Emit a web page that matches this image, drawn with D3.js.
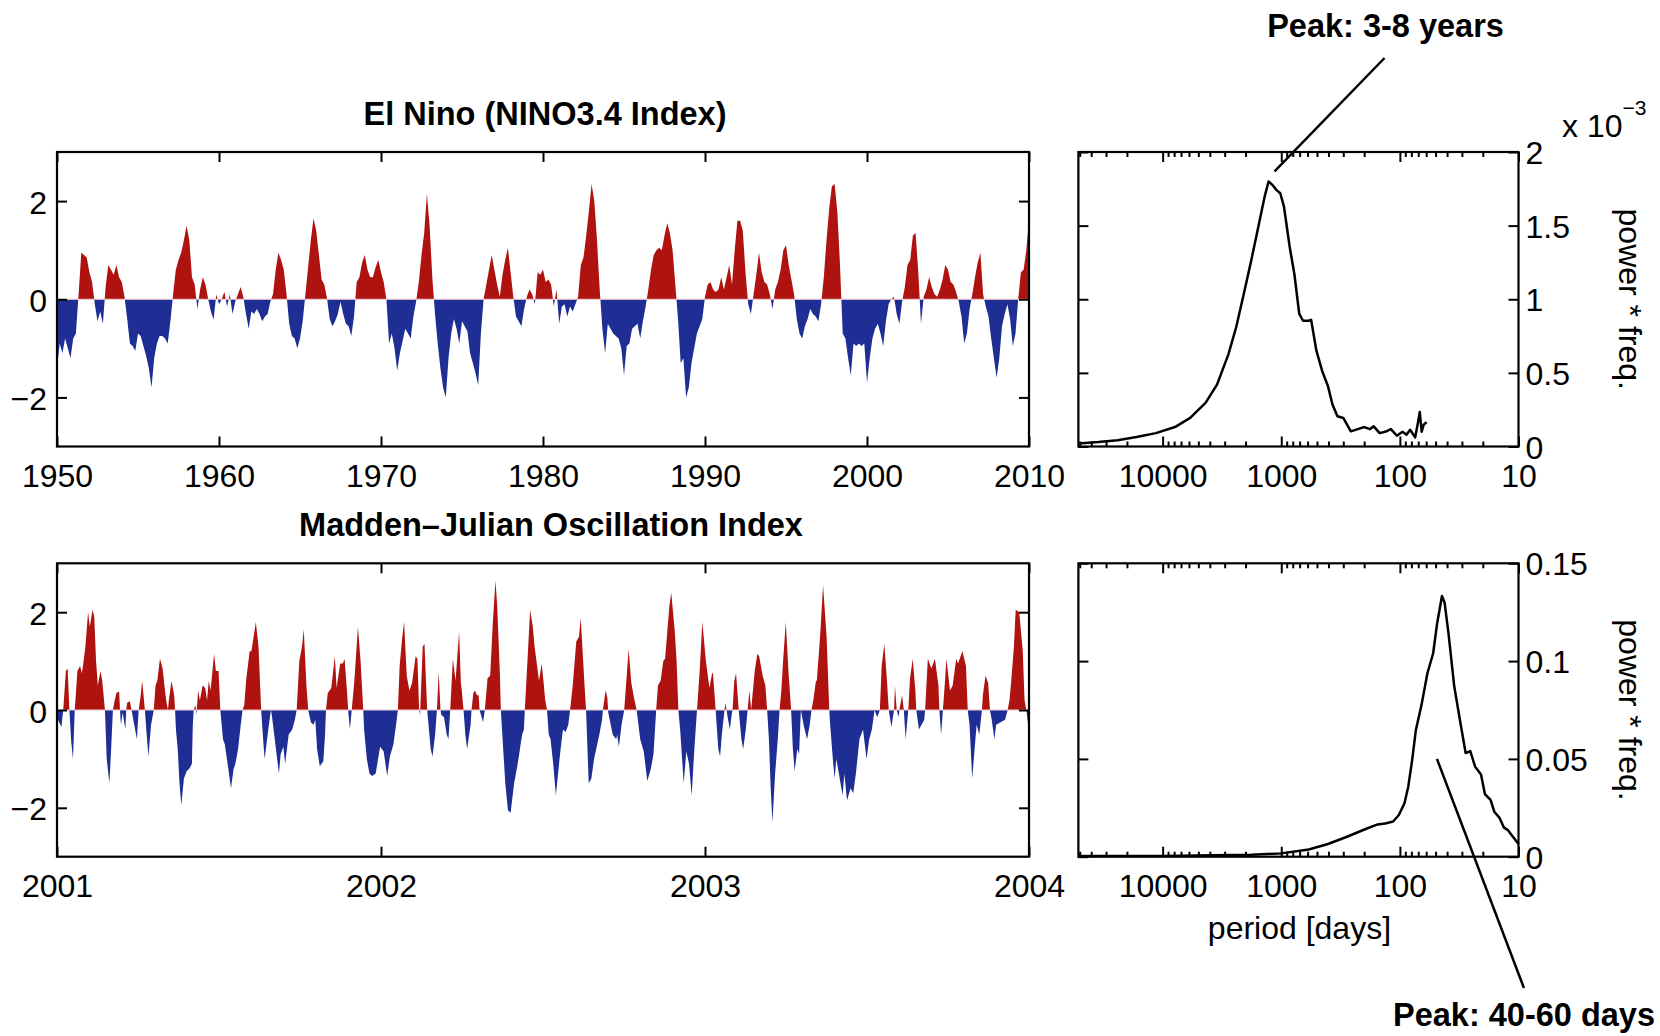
<!DOCTYPE html>
<html>
<head>
<meta charset="utf-8">
<script src="https://cdnjs.cloudflare.com/ajax/libs/d3/7.8.5/d3.min.js"></script>
<style>
    body { margin: 0; background: #fff; }
    svg { display: block; font-family: "Liberation Sans", Arial, Helvetica, sans-serif; }
    .frame { fill: none; stroke: #000; stroke-width: 2.2; }
    .title { font-size: 32.5px; font-weight: bold; text-anchor: middle; }
    .label { font-size: 32px; }
    .spec { fill: none; stroke: #000; stroke-width: 2.5; stroke-linejoin: round; }
    .pointer { stroke: #000; stroke-width: 2.5; }
</style>
</head>
<body>
<svg id="chart"></svg>

<script>

    // NINO3.4 index, every two months from Jan 1950 to Jan 2010
    var ensoStart = 1950,
        ensoEnd = 2010,
        ensoPerYear = 6;
    var ensoIndex = [
        -1.4, -0.9, -1.1, -0.8, -1.0, -1.2,
        -0.8, -0.7, 0.1, 0.95, 0.9, 0.85,
        0.55, 0.35, -0.1, -0.45, -0.25, -0.5,
        0.25, 0.7, 0.6, 0.5, 0.7, 0.45,
        0.35, 0.05, -0.4, -0.9, -0.95, -1.05,
        -0.7, -0.75, -0.95, -1.15, -1.4, -1.8,
        -1.2, -0.9, -0.75, -0.75, -0.8, -0.9,
        -0.45, 0.1, 0.6, 0.8, 0.95, 1.2,
        1.5, 1.2, 0.45, 0.3, -0.2, 0.2,
        0.45, 0.3, 0.0, -0.25, -0.42, 0.1,
        -0.1, 0.0, 0.15, -0.15, 0.1, -0.3,
        -0.05, 0.1, 0.25, 0.05, -0.3, -0.6,
        -0.25, -0.3, -0.2, -0.3, -0.45, -0.35,
        -0.3, -0.05, 0.1, 0.6, 0.95, 0.8,
        0.6, 0.1, -0.5, -0.75, -0.8, -1.0,
        -0.8, -0.45, 0.1, 0.65, 1.2, 1.65,
        1.4, 0.9, 0.4, 0.3, 0.02, -0.4,
        -0.55, -0.45, -0.3, -0.05, -0.3, -0.5,
        -0.55, -0.75, -0.35, 0.35, 0.45, 0.75,
        0.9, 0.6, 0.45, 0.45, 0.65, 0.8,
        0.55, 0.35, 0.0, -0.9, -0.7, -1.0,
        -1.45, -1.1, -0.85, -0.6, -0.7, -0.8,
        -0.35, -0.05, 0.35, 0.9, 1.35, 2.15,
        1.5, 0.45, -0.3, -0.9, -1.4, -1.8,
        -2.0, -1.2, -0.7, -0.4, -0.6, -0.9,
        -0.45, -0.55, -0.65, -1.1, -1.3, -1.5,
        -1.75, -0.7, 0.0, 0.3, 0.6, 0.9,
        0.6, 0.3, 0.05, 0.5, 0.8, 1.05,
        0.55, 0.05, -0.35, -0.45, -0.55, -0.2,
        0.05, 0.2, 0.1, -0.1, 0.55, 0.5,
        0.6, 0.35, 0.4, 0.3, -0.15, 0.2,
        -0.5, -0.15, -0.1, -0.35, -0.15, -0.25,
        -0.1, 0.05, 0.7, 0.85, 1.3, 1.8,
        2.35, 2.0, 1.2, 0.2, -0.6, -1.1,
        -0.5, -0.6, -0.7, -0.75, -0.8, -1.0,
        -1.55, -0.95, -0.9, -0.6, -0.55, -0.5,
        -0.8, -0.45, -0.15, 0.2, 0.6, 0.9,
        1.0, 1.05, 1.0, 1.3, 1.55, 1.35,
        1.0, 0.3, -0.4, -1.3, -1.2, -2.0,
        -1.8, -1.3, -1.0, -0.7, -0.55, -0.4,
        0.05, 0.3, 0.35, 0.2, 0.15, 0.2,
        0.45, 0.2, 0.45, 0.7, 0.3, 1.0,
        1.6, 1.6, 1.4, 0.55, -0.1, -0.3,
        0.1, 0.5, 0.95, 0.55, 0.35, 0.3,
        0.1, -0.2, 0.2, 0.35, 0.6, 1.0,
        1.1, 0.7, 0.4, 0.1, -0.4, -0.7,
        -0.8, -0.55, -0.4, -0.2, -0.3, -0.35,
        -0.45, -0.1, 0.45, 1.2, 1.85, 2.3,
        2.35, 1.8, 0.7, -0.7, -0.8, -1.2,
        -1.55, -0.9, -0.95, -0.9, -0.95, -0.9,
        -1.7, -1.2, -0.8, -0.6, -0.5, -0.7,
        -0.95, -0.45, -0.1, 0.0, 0.05, -0.3,
        -0.5, -0.05, 0.25, 0.7, 0.8, 1.3,
        1.35, 0.55, -0.5, 0.05, 0.2, 0.45,
        0.25, 0.1, 0.05, 0.2, 0.4, 0.7,
        0.6, 0.35, 0.3, 0.15, -0.05, -0.35,
        -0.9, -0.7, -0.2, 0.1, 0.45, 0.75,
        0.95, 0.1, -0.15, -0.35, -0.8, -1.2,
        -1.6, -1.2, -0.55, -0.3, -0.1, -0.4,
        -0.95, -0.7, 0.0, 0.55, 0.6, 1.0,
        1.65
    ];
    var ensoTicks = [1950, 1960, 1970, 1980, 1990, 2000, 2010];

    // MJO index: [day since 1 Jan 2001, value]
    var mjoPoints = [
        [0,-0.15],[1,-0.2],[5,-0.35],[7,0],[10,0.8],[12,0.85],[14,0],[16,-0.65],[18,-1.0],[20,0],
        [23,0.8],[26,0.9],[28,0.75],[30,1.0],[32,1.3],[35,2.0],[37,1.7],[40,2.05],[42,1.9],[44,1.0],
        [46,0.5],[49,0.8],[51,0.6],[53,0.2],[54,0],[56,-1.0],[59,-1.5],[61,-0.8],[63,0],[65,0.2],
        [67,0.35],[70,0.38],[71,0],[72,-0.3],[74,-0.05],[77,-0.4],[78,0],[79,0.15],[82,0.18],[84,0],
        [86,-0.2],[90,-0.6],[92,0],[94,0.25],[96,0.6],[99,0],[101,-0.5],[103,-0.95],[106,-0.3],[109,0],
        [111,0.5],[113,0.6],[116,1.05],[119,0.85],[121,0.5],[123,0.2],[125,0],[126,0.2],[129,0.6],[132,0.3],
        [133,0],[134,-0.4],[136,-0.8],[138,-1.5],[140,-1.95],[143,-1.4],[146,-1.25],[149,-1.2],[152,-1.1],[153,-0.3],
        [154,0],[156,0.1],[157,-0.1],[159,0.4],[161,0.2],[164,0.5],[167,0.45],[169,0.2],[171,0.6],[173,0.4],
        [177,1.15],[179,0.8],[182,0.8],[184,0],[187,-0.6],[189,-0.7],[193,-1.2],[196,-1.6],[199,-1.2],[201,-1.1],
        [204,-0.8],[207,-0.3],[209,0],[211,0.1],[213,0.6],[217,1.2],[219,1.2],[224,1.8],[227,1.3],[230,0],
        [233,-0.8],[234,-1.0],[238,-0.4],[241,0],[242,-0.1],[246,-0.7],[250,-1.3],[252,-0.9],[255,-0.75],[257,-1.1],
        [261,-0.5],[265,-0.4],[268,-0.2],[270,0],[273,1.0],[276,1.3],[278,1.65],[281,0.5],[283,0],[286,-0.25],
        [289,-0.3],[291,-0.2],[293,-0.8],[296,-1.15],[300,-1.05],[302,-0.5],[303,0],[305,0.35],[309,0.45],[313,1.1],
        [315,0.45],[319,0.95],[322,0.95],[324,1.05],[327,0.3],[328,0],[330,-0.4],[332,0],[335,0.6],[339,1.7],
        [342,1.0],[345,0],[346,-0.4],[349,-1.0],[352,-1.3],[355,-1.35],[359,-1.3],[364,-0.75],[368,-0.85],[372,-1.35],
        [375,-0.95],[379,-0.7],[382,-0.3],[384,0],[386,0.9],[389,1.5],[391,1.8],[394,0.7],[397,0.4],[400,0.55],
        [404,1.1],[406,1.05],[408,0],[409,-0.1],[412,1.3],[414,1.35],[417,0],[421,-0.8],[423,-0.95],[426,-0.5],
        [428,0],[430,0.78],[432,0],[433,-0.1],[436,-0.15],[439,-0.5],[441,-0.6],[443,0],[446,1.05],[449,0.6],
        [453,1.6],[455,0.55],[456,0.4],[458,0],[460,-0.5],[462,-0.8],[466,-0.3],[467,0],[469,0.35],[471,0.4],
        [473,0.3],[475,0.3],[476,0],[480,-0.25],[482,0],[485,0.65],[488,0.7],[491,1.8],[494,2.65],[496,2.1],
        [499,0.7],[500,0],[503,-0.9],[505,-1.5],[508,-2.05],[511,-2.1],[515,-1.5],[519,-1.1],[524,-0.5],[526,-0.4],
        [527,0],[530,1.0],[533,2.05],[536,1.7],[538,1.3],[543,0.6],[546,0.95],[548,0.6],[550,0.2],[552,0],
        [554,-0.5],[556,-0.6],[559,-1.1],[562,-1.75],[567,-0.85],[570,-0.4],[573,-0.45],[576,-0.3],[578,0],[581,0.5],
        [585,1.4],[588,1.5],[590,1.88],[594,0.6],[596,0],[599,-1.5],[602,-1.4],[605,-1.0],[611,-0.5],[614,-0.2],
        [615,0],[618,0.4],[620,0.25],[621,-0.05],[626,-0.5],[630,-0.6],[631,-0.5],[633,-0.75],[636,-0.3],[638,-0.1],
        [639,0],[641,0.5],[644,1.25],[647,0.55],[650,0.25],[653,0],[657,-0.6],[661,-0.85],[665,-1.45],[669,-1.2],
        [672,-0.9],[675,0],[677,0.5],[680,0.6],[683,1.0],[685,1.05],[690,2.15],[692,2.4],[696,1.6],[698,1.0],
        [700,0],[702,-0.4],[706,-1.5],[709,-0.85],[712,-1.1],[715,-1.75],[718,-0.8],[721,0],[724,0.8],[727,1.8],
        [731,1.0],[735,0.45],[738,0.75],[739,0.75],[742,0],[745,-0.8],[747,-0.95],[749,-0.5],[752,0],[753,0.15],
        [756,-0.2],[758,-0.4],[760,-0.1],[761,0],[763,0.6],[765,0.75],[768,0],[771,-0.6],[773,-0.8],[776,-0.4],
        [778,0],[780,0.4],[782,0],[786,0.8],[789,1.15],[791,1.1],[795,0.7],[798,0.5],[800,0],[802,-0.6],
        [804,-1.6],[806,-2.3],[809,-1.3],[812,-0.6],[814,0],[816,0.4],[818,1.0],[821,1.8],[824,0.8],[827,0],
        [829,-0.8],[831,-1.25],[834,-0.8],[836,-0.9],[838,0],[841,-0.3],[845,-0.6],[848,-0.3],[850,0],[852,0.2],
        [855,0.6],[856,0.6],[860,1.6],[863,2.55],[867,1.5],[870,0],[871,-0.3],[874,-1.0],[876,-1.4],[878,-1.0],
        [885,-1.75],[887,-1.3],[890,-1.85],[894,-1.6],[897,-1.7],[900,-1.3],[904,-0.6],[908,-0.4],[912,-1.0],[915,-0.6],
        [918,-0.4],[921,0],[924,-0.15],[927,0],[929,0.9],[932,1.35],[935,0.6],[937,0],[940,-0.35],[943,0],
        [944,0.5],[946,0],[948,-0.15],[949,0],[952,0.3],[954,0],[956,-0.6],[959,0],[961,0.65],[964,1.05],
        [967,0.4],[968,0],[971,-0.4],[974,-0.3],[977,-0.2],[978,0],[981,1.05],[985,0.85],[989,1.05],[993,0.5],
        [994,0],[996,-0.5],[998,0],[1000,0.5],[1002,1.05],[1006,0.4],[1009,0.5],[1013,1.05],[1015,0.95],[1020,1.2],
        [1024,0.9],[1026,0],[1028,-0.3],[1031,-1.4],[1036,-0.3],[1039,-0.5],[1042,0],[1043,0.3],[1046,0.7],[1049,0.55],
        [1051,0],[1053,-0.2],[1056,-0.6],[1058,-0.3],[1063,-0.25],[1068,-0.2],[1071,0],[1073,0.2],[1075,0.6],[1078,1.3],
        [1080,2.05],[1084,2.0],[1088,1.2],[1090,0.2],[1092,0],[1094,-0.3],[1095,-0.3]
    ];
    var mjoYears = [2001, 2002, 2003, 2004];
    var indexTicks = [-2, 0, 2];

    // power * frequency against period [days]
    var ensoSpectrum = [
        [51300,0.000020],[34800,0.000030],[24000,0.000043],[16600,0.000064],[11400,0.000091],
        [7880,0.000132],[5860,0.000194],[4350,0.000296],[3480,0.000420],[2790,0.000626],
        [2400,0.000810],[2070,0.001036],[1790,0.001264],[1540,0.001515],[1380,0.001697],
        [1280,0.001800],[1190,0.001777],[1100,0.001743],[1020,0.001720],[949,0.001630],
        [849,0.001355],[776,0.001173],[705,0.000900],[655,0.000854],[586,0.000854],
        [560,0.000860],[505,0.000649],[452,0.000513],[404,0.000410],[370,0.000285],
        [336,0.000205],[300,0.000194],[259,0.000103],[223,0.000120],[199,0.000132],
        [179,0.000118],[166,0.000137],[148,0.000091],[133,0.000100],[119,0.000118],
        [106,0.000073],[95,0.000100],[88,0.000080],[82,0.000114],[74.3,0.000062],
        [70.5,0.000160],[68,0.000235],[65.5,0.000100],[63,0.000148],[59.5,0.000166]
    ];
    var mjoSpectrum = [
        [51300,0.0003],[10000,0.0003],[3750,0.0007],[1790,0.0010],[1000,0.0017],
        [586,0.0037],[404,0.0065],[279,0.0102],[192,0.0143],[154,0.0165],
        [133,0.0170],[114,0.0180],[102,0.0213],[91.5,0.0273],[85,0.0358],
        [78.8,0.0494],[73.3,0.0648],[65.5,0.0780],[58.6,0.0938],[52.4,0.1040],
        [48.6,0.1190],[44.2,0.1333],[42,0.1300],[38.9,0.1140],[34.8,0.0870],
        [31.2,0.0700],[27.9,0.0530],[25.5,0.0540],[23.2,0.0460],[20.7,0.0420],
        [19.2,0.0320],[17.2,0.0290],[16.0,0.0230],[14.5,0.0200],[13.3,0.0150],
        [12.3,0.0136],[11.4,0.0110],[10,0.0065]
    ];
    var periodDomain = [51300, 10];
    var periodTicks = [10000, 1000, 100, 10];
    var ensoPowerTicks = [0, 0.0005, 0.001, 0.0015, 0.002];
    var mjoPowerTicks = [0, 0.05, 0.1, 0.15];

    var width = 1660,
        height = 1036;

    var red = "#af130f",
        blue = "#1f2e95";

    var left = {x0: 57, x1: 1029},
        right = {x0: 1078.4, x1: 1518.5},
        rowTop = {y0: 152, y1: 446.5},
        rowBottom = {y0: 563.3, y1: 856.7};

    var svg = d3.select("#chart")
        .attr("width", width)
        .attr("height", height);

    svg.append("rect")
        .attr("width", width)
        .attr("height", height)
        .attr("fill", "#fff");

    var defs = svg.append("defs");

    function styleAxis(g) {
        g.select(".domain").remove();
        g.selectAll("line").attr("stroke", "#000").attr("stroke-width", 2);
        g.selectAll("text")
            .attr("fill", "#000")
            .attr("font-size", 32)
            .attr("font-family", "Liberation Sans, Arial, Helvetica, sans-serif");
    }

    // filled index time series, red above zero and blue below
    function indexPanel(id, box, row, x, points, xTicks, xFormat, title, titleShift) {
        var y = d3.scaleLinear().domain([-3, 3]).range([row.y1, row.y0]);
        var zero = y(0);

        defs.append("clipPath").attr("id", id + "-up")
            .append("rect")
            .attr("x", box.x0).attr("y", row.y0)
            .attr("width", box.x1 - box.x0).attr("height", zero - row.y0);
        defs.append("clipPath").attr("id", id + "-down")
            .append("rect")
            .attr("x", box.x0).attr("y", zero)
            .attr("width", box.x1 - box.x0).attr("height", row.y1 - zero);

        var area = d3.area()
            .x(function(d) { return x(d[0]); })
            .y0(zero)
            .y1(function(d) { return y(d[1]); });

        var g = svg.append("g").attr("class", id);

        g.append("path")
            .datum(points)
            .attr("clip-path", "url(#" + id + "-up)")
            .attr("fill", red)
            .attr("d", area);

        g.append("path")
            .datum(points)
            .attr("clip-path", "url(#" + id + "-down)")
            .attr("fill", blue)
            .attr("d", area);

        g.append("line")
            .attr("x1", box.x0).attr("x2", box.x1)
            .attr("y1", zero).attr("y2", zero)
            .attr("stroke", "#eec7cb")
            .attr("stroke-width", 1.2);

        g.append("g")
            .attr("transform", "translate(0," + row.y1 + ")")
            .call(d3.axisBottom(x).tickValues(xTicks).tickFormat(xFormat).tickSize(-10).tickPadding(18))
            .call(styleAxis);
        g.append("g")
            .attr("transform", "translate(0," + row.y0 + ")")
            .call(d3.axisTop(x).tickValues(xTicks).tickFormat("").tickSize(-10))
            .call(styleAxis);
        g.append("g")
            .attr("transform", "translate(" + box.x0 + ",0)")
            .call(d3.axisLeft(y).tickValues(indexTicks).tickFormat(d3.format("d")).tickSize(-10).tickPadding(10))
            .call(styleAxis)
            .selectAll("text").attr("dy", "0.38em");
        g.append("g")
            .attr("transform", "translate(" + box.x1 + ",0)")
            .call(d3.axisRight(y).tickValues(indexTicks).tickFormat("").tickSize(-10))
            .call(styleAxis);

        g.append("rect")
            .attr("class", "frame")
            .attr("x", box.x0).attr("y", row.y0)
            .attr("width", box.x1 - box.x0).attr("height", row.y1 - row.y0);

        svg.append("text")
            .attr("class", "title")
            .attr("x", (box.x0 + box.x1) / 2 + titleShift)
            .attr("y", row.y0 - 27)
            .text(title);
    }

    // spectrum panel with log period axis
    function spectrumPanel(row, data, powerTicks, powerFormat) {
        var x = d3.scaleLog().domain(periodDomain).range([right.x0, right.x1]);
        var y = d3.scaleLinear().domain([0, powerTicks[powerTicks.length - 1]]).range([row.y1, row.y0]);

        var minor = [];
        for (var e = 1; e <= 4; e++) {
            for (var m = 2; m <= 9; m++) {
                var v = m * Math.pow(10, e);
                if (v <= periodDomain[0]) minor.push(v);
            }
        }

        var g = svg.append("g");

        g.append("path")
            .datum(data)
            .attr("class", "spec")
            .attr("d", d3.line()
                .x(function(d) { return x(d[0]); })
                .y(function(d) { return y(d[1]); }));

        g.append("g")
            .attr("transform", "translate(0," + row.y1 + ")")
            .call(d3.axisBottom(x).tickValues(periodTicks).tickFormat(d3.format("d")).tickSize(-10).tickPadding(18))
            .call(styleAxis);
        g.append("g")
            .attr("transform", "translate(0," + row.y1 + ")")
            .call(d3.axisBottom(x).tickValues(minor).tickFormat("").tickSize(-5))
            .call(styleAxis);
        g.append("g")
            .attr("transform", "translate(0," + row.y0 + ")")
            .call(d3.axisTop(x).tickValues(periodTicks).tickFormat("").tickSize(-10))
            .call(styleAxis);
        g.append("g")
            .attr("transform", "translate(0," + row.y0 + ")")
            .call(d3.axisTop(x).tickValues(minor).tickFormat("").tickSize(-5))
            .call(styleAxis);
        g.append("g")
            .attr("transform", "translate(" + right.x0 + ",0)")
            .call(d3.axisLeft(y).tickValues(powerTicks).tickFormat("").tickSize(-10))
            .call(styleAxis);
        g.append("g")
            .attr("transform", "translate(" + right.x1 + ",0)")
            .call(d3.axisRight(y).tickValues(powerTicks).tickFormat(powerFormat).tickSize(-10).tickPadding(7))
            .call(styleAxis)
            .selectAll("text").attr("dy", "0.36em");

        g.append("rect")
            .attr("class", "frame")
            .attr("x", right.x0).attr("y", row.y0)
            .attr("width", right.x1 - right.x0).attr("height", row.y1 - row.y0);

        svg.append("text")
            .attr("class", "label")
            .attr("transform", "translate(1619," + (row.y0 + row.y1) / 2 + ") rotate(90)")
            .attr("text-anchor", "middle")
            .text("power * freq.");

        var peak = d3.greatest(data, function(d) { return d[1]; });
        return {x: x(peak[0]), y: y(peak[1]), scaleY: y};
    }

    // El Nino
    var ensoX = d3.scaleLinear().domain([ensoStart, ensoEnd]).range([left.x0, left.x1]);
    var ensoPoints = ensoIndex.map(function(v, i) { return [ensoStart + i / ensoPerYear, v]; });
    indexPanel("enso", left, rowTop, ensoX, ensoPoints, ensoTicks, d3.format("d"), "El Nino (NINO3.4 Index)", 2);

    // Madden-Julian Oscillation
    var mjoStartDate = new Date(mjoYears[0], 0, 1);
    var mjoX = d3.scaleTime()
        .domain([mjoStartDate, new Date(mjoYears[mjoYears.length - 1], 0, 1)])
        .range([left.x0, left.x1]);
    var mjoDates = mjoPoints.map(function(d) { return [d3.timeDay.offset(mjoStartDate, d[0]), d[1]]; });
    var mjoTickDates = mjoYears.map(function(yr) { return new Date(yr, 0, 1); });
    indexPanel("mjo", left, rowBottom, mjoX, mjoDates, mjoTickDates, d3.timeFormat("%Y"), "Madden\u2013Julian Oscillation Index", 8);

    // spectra
    var topPeak = spectrumPanel(rowTop, ensoSpectrum, ensoPowerTicks, function(d) { return d3.format("")(+(d * 1000).toFixed(1)); });
    var bottomPeak = spectrumPanel(rowBottom, mjoSpectrum, mjoPowerTicks, function(d) { return d3.format("")(d); });

    var exponent = svg.append("text")
        .attr("class", "label")
        .attr("x", 1562)
        .attr("y", rowTop.y0 - 15)
        .text("x 10");
    exponent.append("tspan")
        .attr("dy", -22)
        .attr("font-size", 21)
        .text("\u22123");

    svg.append("text")
        .attr("class", "label")
        .attr("x", (right.x0 + right.x1) / 2 + 1)
        .attr("y", rowBottom.y1 + 82)
        .attr("text-anchor", "middle")
        .text("period [days]");

    // peak annotations
    svg.append("line")
        .attr("class", "pointer")
        .attr("x1", topPeak.x + 6).attr("y1", topPeak.y - 10)
        .attr("x2", topPeak.x + 116).attr("y2", 58);
    svg.append("text")
        .attr("class", "title")
        .attr("x", topPeak.x + 117)
        .attr("y", 37)
        .text("Peak: 3-8 years");

    svg.append("line")
        .attr("class", "pointer")
        .attr("x1", bottomPeak.x - 5).attr("y1", bottomPeak.scaleY(0.05))
        .attr("x2", bottomPeak.x + 82).attr("y2", 988);
    svg.append("text")
        .attr("class", "title")
        .style("text-anchor", "start")
        .attr("x", 1393)
        .attr("y", 1026)
        .text("Peak: 40-60 days");

</script>

</body>
</html>
